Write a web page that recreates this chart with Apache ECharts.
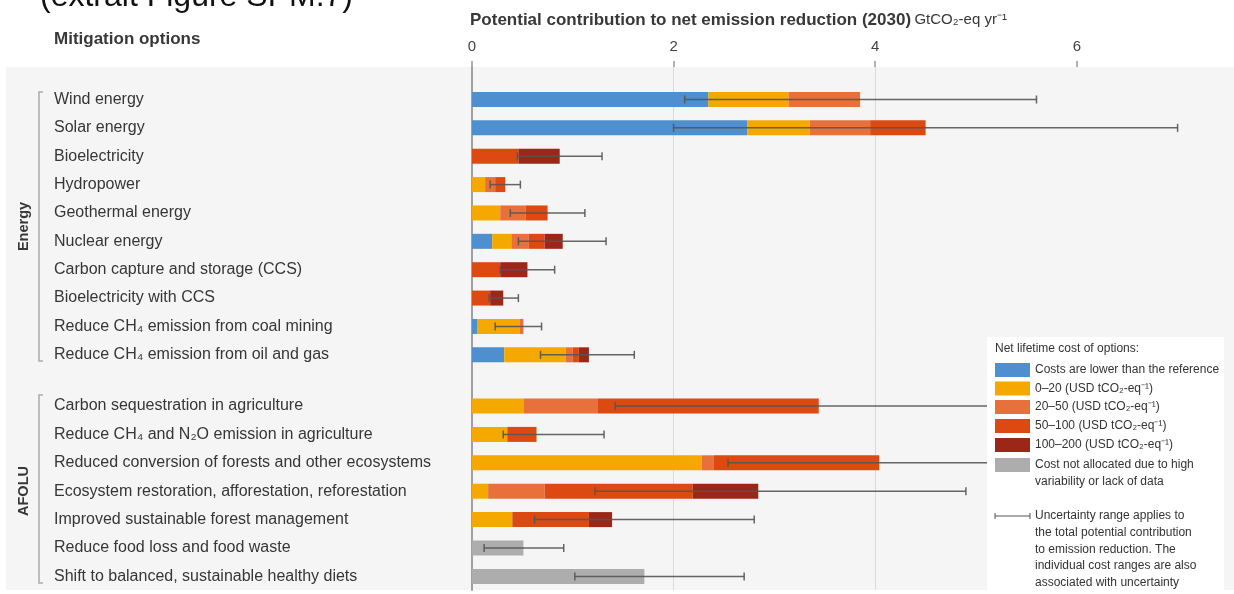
<!DOCTYPE html>
<html>
<head>
<meta charset="utf-8">
<script src="https://cdn.jsdelivr.net/npm/echarts@6/dist/echarts.min.js"></script>
<style>
html,body{margin:0;padding:0;background:#fff;}
#chart{width:1234px;height:594px;}
</style>
</head>
<body>
<div id="chart"></div>
<script>
// ---------- DATA ----------
const xTicks = [0, 2, 4, 6];

const energyCats = [
  'Wind energy', 'Solar energy', 'Bioelectricity', 'Hydropower', 'Geothermal energy',
  'Nuclear energy', 'Carbon capture and storage (CCS)', 'Bioelectricity with CCS',
  'Reduce CH\u2084 emission from coal mining', 'Reduce CH\u2084 emission from oil and gas'
];
const afoluCats = [
  'Carbon sequestration in agriculture',
  'Reduce CH\u2084 and N\u2082O emission in agriculture',
  'Reduced conversion of forests and other ecosystems',
  'Ecosystem restoration, afforestation, reforestation',
  'Improved sustainable forest management',
  'Reduce food loss and food waste',
  'Shift to balanced, sustainable healthy diets'
];

// segment lengths (GtCO2-eq/yr) per cost class
const energyLower    = [2.345, 2.73, 0, 0, 0, 0.20, 0, 0, 0.05, 0.32];
const energy0_20     = [0.795, 0.62, 0, 0.13, 0.28, 0.19, 0, 0, 0.42, 0.61];
const energy20_50    = [0.71, 0.60, 0, 0.10, 0.25, 0.17, 0, 0, 0.04, 0.07];
const energy50_100   = [0, 0.55, 0.46, 0.10, 0.22, 0.16, 0.28, 0.18, 0, 0.06];
const energy100_200  = [0, 0, 0.41, 0, 0, 0.18, 0.27, 0.13, 0, 0.10];
const energyNA       = [0, 0, 0, 0, 0, 0, 0, 0, 0, 0];
const energyRangeLow  = [2.11, 2.0, 0.45, 0.18, 0.38, 0.46, 0.28, 0.17, 0.23, 0.68];
const energyRangeHigh = [5.6, 7.0, 1.29, 0.48, 1.12, 1.33, 0.82, 0.46, 0.69, 1.61];

const afoluLower     = [0, 0, 0, 0, 0, 0, 0];
const afolu0_20      = [0.51, 0.35, 2.28, 0.16, 0.40, 0, 0];
const afolu20_50     = [0.74, 0, 0.12, 0.56, 0, 0, 0];
const afolu50_100    = [2.19, 0.29, 1.64, 1.47, 0.76, 0, 0];
const afolu100_200   = [0, 0, 0, 0.65, 0.23, 0, 0];
const afoluNA        = [0, 0, 0, 0, 0, 0.51, 1.71];
const afoluRangeLow  = [1.42, 0.31, 2.54, 1.22, 0.62, 0.12, 1.02];
const afoluRangeHigh = [6.2, 1.31, 6.5, 4.90, 2.80, 0.91, 2.70];

const costNames = [
  'Costs are lower than the reference',
  '0\u201320 (USD tCO\u2082-eq\u207B\u00B9)',
  '20\u201350 (USD tCO\u2082-eq\u207B\u00B9)',
  '50\u2013100 (USD tCO\u2082-eq\u207B\u00B9)',
  '100\u2013200 (USD tCO\u2082-eq\u207B\u00B9)',
  'Cost not allocated due to high\nvariability or lack of data'
];
const costColors = ['#4d8fcf', '#f5a800', '#e8703a', '#dc4a12', '#9c2617', '#adadad'];

// ---------- CHART ----------
const FONT = '"Liberation Sans", Arial, sans-serif';
const chart = echarts.init(document.getElementById('chart'), null, {renderer: 'canvas'});

const PLOT_LEFT = 472, UNIT = 100.8;
const gridW = 1234 - PLOT_LEFT;
const XMAX = gridW / UNIT;

function stackSeries(arrs, xi, stackName) {
  return arrs.map((arr, k) => ({
    type: 'bar', name: costNames[k], xAxisIndex: xi, yAxisIndex: xi, stack: stackName,
    barWidth: 15, itemStyle: {color: costColors[k]},
    data: arr.map(v => v === 0 ? '-' : v), silent: true, z: 3
  }));
}
function errSeries(lo, hi, xi) {
  return {
    type: 'custom', xAxisIndex: xi, yAxisIndex: xi, silent: true, z: 6,
    data: lo.map((v, i) => [i, v, hi[i]]),
    encode: {x: [1, 2], y: 0},
    renderItem: function (params, api) {
      const c = api.value(0);
      const p1 = api.coord([api.value(1), c]);
      const p2 = api.coord([api.value(2), c]);
      const h = 4;
      const st = {stroke: '#555555', lineWidth: 1.5, opacity: 0.9};
      return {type: 'group', children: [
        {type: 'line', shape: {x1: p1[0], y1: p1[1], x2: p2[0], y2: p2[1]}, style: st},
        {type: 'line', shape: {x1: p1[0], y1: p1[1] - h, x2: p1[0], y2: p1[1] + h}, style: st},
        {type: 'line', shape: {x1: p2[0], y1: p2[1] - h, x2: p2[0], y2: p2[1] + h}, style: st}
      ]};
    }
  };
}

const hiddenX = i => ({gridIndex: i, type: 'value', min: 0, max: XMAX, show: false});
const catY = (i, cats) => ({
  gridIndex: i, type: 'category', data: cats, inverse: true,
  axisLine: {show: false}, axisTick: {show: false}, splitLine: {show: false},
  axisLabel: {align: 'left', margin: PLOT_LEFT - 54, color: '#363636', fontFamily: FONT, fontSize: 16}
});

// legend graphic
const LX = 995, legendRows = [370, 388.5, 407, 426, 445, 465];
const legendEls = [
  {type: 'rect', shape: {x: 987, y: 337, width: 237, height: 257}, style: {fill: '#ffffff'}, z: 100},
  {type: 'text', x: LX, y: 349, style: {text: 'Net lifetime cost of options:', fill: '#333', font: '12px ' + FONT, verticalAlign: 'middle'}, z: 101}
];
costNames.forEach((n, k) => {
  legendEls.push({type: 'rect', shape: {x: LX, y: legendRows[k] - 7, width: 35, height: 14}, style: {fill: costColors[k]}, z: 101});
  legendEls.push({type: 'text', x: LX + 40, y: legendRows[k] - 8.5, style: {text: n, fill: '#333', font: '12px ' + FONT, verticalAlign: 'top', lineHeight: 17}, z: 101});
});
const legIcon = {stroke: '#555', lineWidth: 1};
legendEls.push({type: 'line', shape: {x1: LX, y1: 516, x2: LX + 35, y2: 516}, style: legIcon, z: 101});
legendEls.push({type: 'line', shape: {x1: LX, y1: 513, x2: LX, y2: 519}, style: legIcon, z: 101});
legendEls.push({type: 'line', shape: {x1: LX + 35, y1: 513, x2: LX + 35, y2: 519}, style: legIcon, z: 101});
legendEls.push({type: 'text', x: LX + 40, y: 516 - 8.35, style: {
  text: 'Uncertainty range applies to\nthe total potential contribution\nto emission reduction. The\nindividual cost ranges are also\nassociated with uncertainty',
  fill: '#333', font: '12px ' + FONT, verticalAlign: 'top', lineHeight: 16.7}, z: 101});

const option = {
  animation: false,
  grid: [
    {left: PLOT_LEFT, top: 67, width: gridW, height: 523},
    {left: PLOT_LEFT, top: 85.3, width: gridW, height: 283.7},
    {left: PLOT_LEFT, top: 391.8, width: gridW, height: 198.8}
  ],
  xAxis: [
    {gridIndex: 0, type: 'value', position: 'top', min: 0, max: XMAX, interval: 2,
      axisLine: {show: false, onZero: false},
      axisTick: {show: true, length: 6, lineStyle: {color: '#9a9a9a', width: 1.5},
        customValues: xTicks},
      axisLabel: {margin: 13, color: '#444', fontFamily: FONT, fontSize: 15, customValues: xTicks},
      splitLine: {show: true, showMinLine: false, showMaxLine: false, lineStyle: {color: '#dadada', width: 1}}
    },
    hiddenX(1), hiddenX(2)
  ],
  yAxis: [
    {gridIndex: 0, type: 'value', min: 0, max: 1,
      axisLine: {show: true, onZero: false, lineStyle: {color: '#a0a0a0', width: 2}},
      axisTick: {show: false}, axisLabel: {show: false}, splitLine: {show: false}},
    catY(1, energyCats), catY(2, afoluCats)
  ],
  graphic: [
    {type: 'rect', shape: {x: 6, y: 67, width: 1228, height: 523}, style: {fill: '#f5f5f5'}, z: -10, silent: true},
    {type: 'text', x: 40, y: -3, style: {text: '(extrait Figure SPM.7)', fill: '#111', font: '32px ' + FONT, verticalAlign: 'middle'}},
    {type: 'text', x: 54, y: 39, style: {text: 'Mitigation options', fill: '#383838', font: 'bold 17px ' + FONT, verticalAlign: 'middle'}},
    {type: 'text', x: 470, y: 20, style: {
      text: '{b|Potential contribution to net emission reduction (2030)} {n|GtCO\u2082-eq yr\u207B\u00B9}',
      verticalAlign: 'middle',
      rich: {b: {fill: '#383838', font: 'bold 17px ' + FONT}, n: {fill: '#383838', font: '15px ' + FONT}}
    }},
    {type: 'text', x: 24, y: 226.5, rotation: Math.PI / 2, style: {text: 'Energy', fill: '#383838', font: 'bold 14.5px ' + FONT, align: 'center', verticalAlign: 'middle'}},
    {type: 'text', x: 24, y: 491, rotation: Math.PI / 2, style: {text: 'AFOLU', fill: '#383838', font: 'bold 14.5px ' + FONT, align: 'center', verticalAlign: 'middle'}},
    {type: 'polyline', shape: {points: [[43, 92], [39, 92], [39, 361], [43, 361]]}, style: {stroke: '#aaaaaa', lineWidth: 1.5, fill: null}},
    {type: 'polyline', shape: {points: [[43, 395], [39, 395], [39, 583], [43, 583]]}, style: {stroke: '#aaaaaa', lineWidth: 1.5, fill: null}}
  ].concat(legendEls),
  series: [
    ...stackSeries([energyLower, energy0_20, energy20_50, energy50_100, energy100_200, energyNA], 1, 'e'),
    errSeries(energyRangeLow, energyRangeHigh, 1),
    ...stackSeries([afoluLower, afolu0_20, afolu20_50, afolu50_100, afolu100_200, afoluNA], 2, 'a'),
    errSeries(afoluRangeLow, afoluRangeHigh, 2)
  ]
};
chart.setOption(option);
</script>
</body>
</html>
